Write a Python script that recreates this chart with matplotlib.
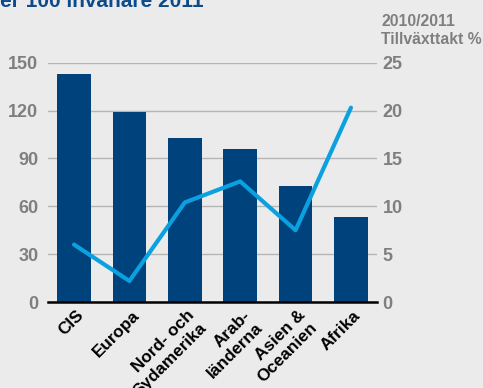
import matplotlib.pyplot as plt
import matplotlib.transforms as mtransforms

# Regioner, abonnemang per 100 invånare och tillväxttakt 2010/2011
regioner = ['CIS', 'Europa', 'Nord- och\nSydamerika', 'Arab-\nländerna', 'Asien &\nOceanien', 'Afrika']
per_100 = [143, 119, 103, 96, 73, 53]
tillvaxt = [6.0, 2.2, 10.4, 12.6, 7.5, 20.3]

vanster_ticks = [0, 30, 60, 90, 120, 150]
hoger_ticks = [0, 5, 10, 15, 20, 25]

bakgrund = '#ebebeb'
stapel_farg = '#00427b'
linje_farg = '#0ba0e0'
gra = '#7f7f7f'

plt.rcParams['font.family'] = ['Liberation Sans', 'DejaVu Sans']
plt.rcParams['font.weight'] = 'bold'

fig = plt.figure(figsize=(4.83, 3.88), dpi=100, facecolor=bakgrund)
ax = fig.add_axes([0.0994, 0.2216, 0.6811, 0.6168], facecolor=bakgrund)

x = list(range(len(regioner)))

# Staplar (vänster axel)
ax.bar(x, per_100, width=0.61, color=stapel_farg, zorder=2)
ax.set_xlim(-0.47, 5.47)
ax.set_ylim(0, 150)
ax.set_yticks(vanster_ticks)
ax.yaxis.grid(True, color='#b5b5b5', linewidth=1.0, zorder=0)
ax.set_axisbelow(True)

for s in ['top', 'left', 'right']:
    ax.spines[s].set_visible(False)
ax.spines['bottom'].set_color('black')
ax.spines['bottom'].set_linewidth(1.8)
ax.spines['bottom'].set_zorder(3)

ax.tick_params(axis='y', length=0, pad=7, labelsize=13, labelcolor=gra)
ax.tick_params(axis='x', length=0, pad=4)
ax.set_xticks(x)
ax.set_xticklabels(regioner, rotation=45, ha='right', va='top',
                   rotation_mode='anchor', fontsize=12.3, color='black',
                   fontweight='bold')
# flytta etiketterna en aning åt höger
forskjut = mtransforms.ScaledTranslation(2 / 100, 0, fig.dpi_scale_trans)
for lbl in ax.get_xticklabels():
    lbl.set_transform(lbl.get_transform() + forskjut)

# Tillväxttakt (höger axel)
ax2 = ax.twinx()
ax2.plot(x, tillvaxt, color=linje_farg, linewidth=3, solid_capstyle='round', zorder=4)
ax2.set_ylim(0, 25)
ax2.set_yticks(hoger_ticks)
ax2.tick_params(axis='y', length=0, pad=4, labelsize=13, labelcolor=gra)
for s in ax2.spines.values():
    s.set_visible(False)

# Rubriker
fig.text(0, 1 - 7 / 388, 'er 100 invånare 2011', ha='left', va='baseline',
         fontsize=15, fontweight='bold', color='#0d4a8a')
fig.text(381 / 483, 1 - 26 / 388, '2010/2011', ha='left', va='baseline',
         fontsize=11.3, fontweight='bold', color=gra)
fig.text(381 / 483, 1 - 44 / 388, 'Tillväxttakt %', ha='left', va='baseline',
         fontsize=11.3, fontweight='bold', color=gra)

fig.savefig('out.png', dpi=100, facecolor=bakgrund)
